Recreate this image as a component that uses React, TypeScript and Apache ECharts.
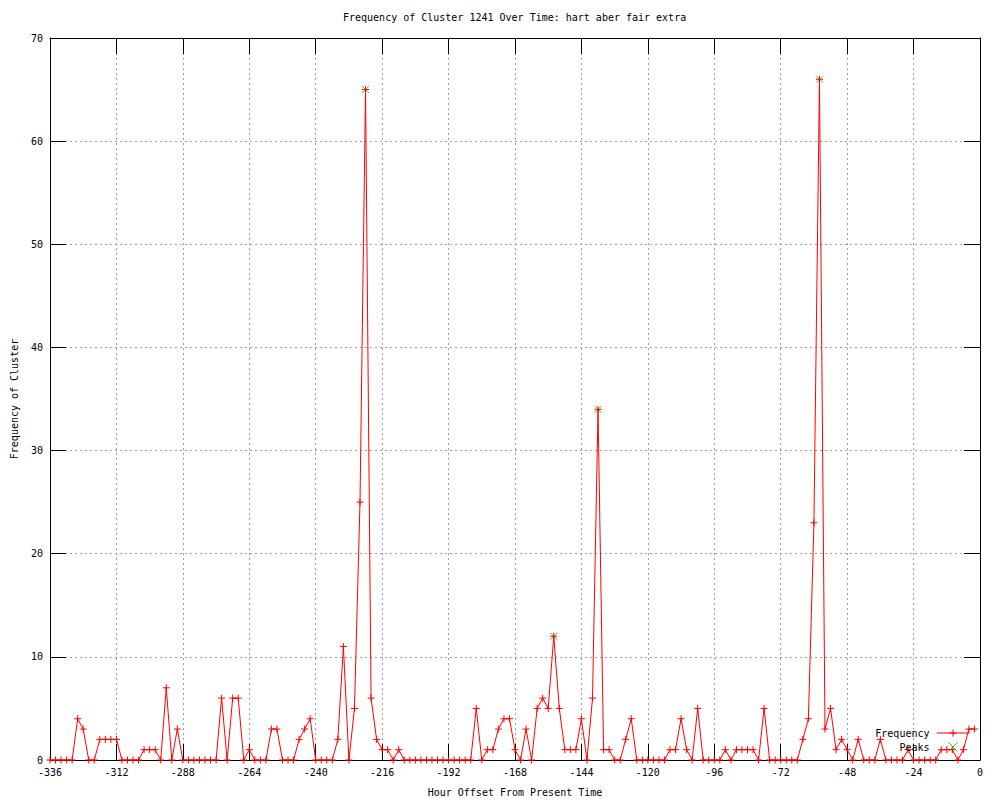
import React, { useEffect, useRef } from 'react';
import * as echarts from 'echarts';

// Frequency values, one every 2 hours from -336 to -2
const frequency = [
  0, 0, 0, 0, 0, 4, 3, 0, 0, 2,
  2, 2, 2, 0, 0, 0, 0, 1, 1, 1,
  0, 7, 0, 3, 0, 0, 0, 0, 0, 0,
  0, 6, 0, 6, 6, 0, 1, 0, 0, 0,
  3, 3, 0, 0, 0, 2, 3, 4, 0, 0,
  0, 0, 2, 11, 0, 5, 25, 65, 6, 2,
  1, 1, 0, 1, 0, 0, 0, 0, 0, 0,
  0, 0, 0, 0, 0, 0, 0, 5, 0, 1,
  1, 3, 4, 4, 1, 0, 3, 0, 5, 6,
  5, 12, 5, 1, 1, 1, 4, 0, 6, 34,
  1, 1, 0, 0, 2, 4, 0, 0, 0, 0,
  0, 0, 1, 1, 4, 1, 0, 5, 0, 0,
  0, 0, 1, 0, 1, 1, 1, 1, 0, 5,
  0, 0, 0, 0, 0, 0, 2, 4, 23, 66,
  3, 5, 1, 2, 1, 0, 2, 0, 0, 0,
  2, 0, 0, 0, 0, 1, 0, 0, 0, 0,
  0, 1, 1, 1, 0, 1, 3, 3,
];
const startHour = -336;
const hourStep = 2;
const hours = frequency.map((_, i) => startHour + hourStep * i);

const peakHours = [-222, -154, -138, -58];
const peakValues = [65, 12, 34, 66];

const titleText = 'Frequency of Cluster 1241 Over Time: hart aber fair extra';
const xName = 'Hour Offset From Present Time';
const yName = 'Frequency of Cluster';

const FONT = 'DejaVu Sans Mono';
const PLUS = 'path://M0,5L10,5M5,0L5,10';
const CROSS = 'path://M0,0L10,10M10,0L0,10';

export default function App() {
  const ref = useRef<HTMLDivElement>(null);
  useEffect(() => {
    if (!ref.current) return;
    const chart = echarts.init(ref.current, null, { renderer: 'svg' });
    const labelStyle = { fontFamily: FONT, fontSize: 10, color: '#000' };
    const tickLen = 16;
    const border = { show: true, onZero: false, lineStyle: { color: '#000', width: 1 } };
    const ticks = { show: true, inside: true, length: tickLen, lineStyle: { color: '#000', width: 1 } };
    const grid = { show: true, lineStyle: { color: '#a0a0a0', type: [2, 3], width: 1 } };
    chart.setOption({
      animation: false,
      backgroundColor: '#fff',
      title: {
        text: titleText,
        left: 343,
        top: 12,
        padding: 0,
        textStyle: { fontFamily: FONT, fontSize: 10, fontWeight: 'normal', color: '#000' },
      },
      legend: {
        data: ['Frequency', 'Peaks'],
        orient: 'vertical',
        right: 30,
        top: 728,
        align: 'right',
        itemWidth: 33,
        itemHeight: 9,
        itemGap: 4,
        padding: 0,
        lineStyle: { width: 1 },
        itemStyle: { borderWidth: 1 },
        textStyle: { ...labelStyle, padding: [0, 2, 0, 0] },
      },
      grid: { left: 50, right: 20, top: 38, bottom: 40, outerBoundsMode: 'none', containLabel: false },
      xAxis: [
        {
          type: 'value',
          min: -336,
          max: 0,
          interval: 24,
          name: xName,
          nameLocation: 'middle',
          nameGap: 27,
          nameTextStyle: labelStyle,
          axisLine: border,
          axisTick: ticks,
          axisLabel: { ...labelStyle, margin: 7 },
          splitLine: grid,
        },
        {
          type: 'value',
          position: 'top',
          min: -336,
          max: 0,
          interval: 24,
          axisLine: border,
          axisTick: ticks,
          axisLabel: { show: false },
          splitLine: { show: false },
        },
      ],
      yAxis: [
        {
          type: 'value',
          min: 0,
          max: 70,
          interval: 10,
          name: yName,
          nameLocation: 'middle',
          nameGap: 31,
          nameTextStyle: labelStyle,
          axisLine: border,
          axisTick: ticks,
          axisLabel: { ...labelStyle, margin: 7 },
          splitLine: grid,
        },
        {
          type: 'value',
          position: 'right',
          min: 0,
          max: 70,
          interval: 10,
          axisLine: border,
          axisTick: ticks,
          axisLabel: { show: false },
          splitLine: { show: false },
        },
      ],
      series: [
        {
          name: 'Frequency',
          type: 'line',
          z: 3,
          xAxisIndex: 0,
          yAxisIndex: 0,
          data: hours.map((h, i) => [h, frequency[i]]),
          symbol: PLUS,
          symbolSize: 7,
          showAllSymbol: true,
          lineStyle: { color: '#ff0000', width: 1 },
          itemStyle: { color: '#ff0000', borderColor: '#ff0000', borderWidth: 1 },
        },
        {
          name: 'Peaks',
          type: 'scatter',
          z: 2,
          xAxisIndex: 0,
          yAxisIndex: 0,
          data: peakHours.map((h, i) => [h, peakValues[i]]),
          symbol: CROSS,
          symbolSize: 7,
          symbolKeepAspect: true,
          itemStyle: { color: '#00c000', borderColor: '#00c000', borderWidth: 1 },
        },
      ],
    });
    return () => chart.dispose();
  }, []);
  return (
    <div
      ref={ref}
      style={{ width: 1000, height: 800, position: 'absolute', left: 0, top: 0 }}
    />
  );
}
